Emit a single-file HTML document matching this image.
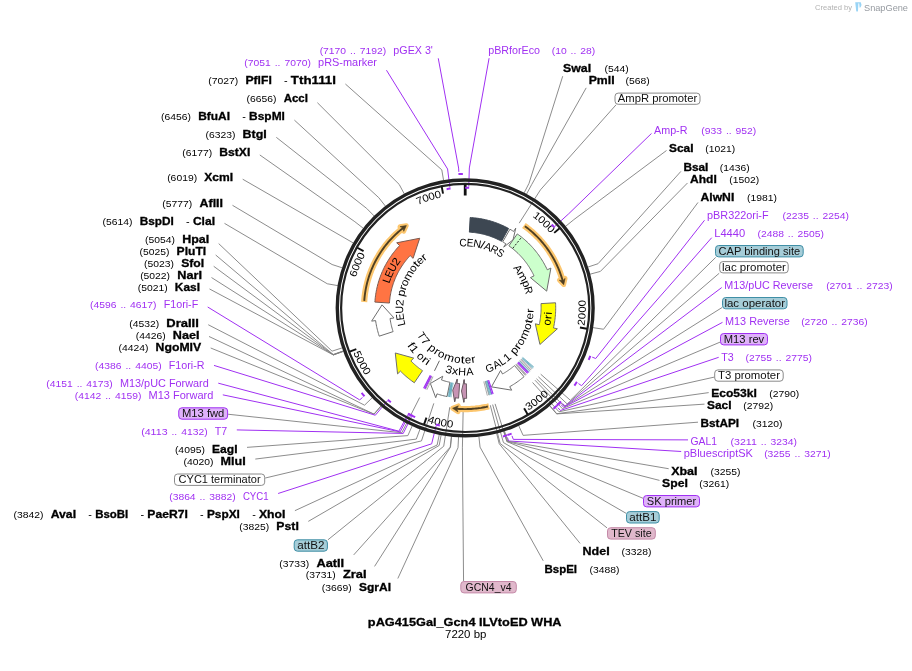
<!DOCTYPE html>
<html><head><meta charset="utf-8"><title>pAG415Gal_Gcn4 ILVtoED WHA</title>
<style>
html,body{margin:0;padding:0;background:#fff;}
body{width:912px;height:671px;overflow:hidden;}
svg{display:block;font-family:"Liberation Sans",sans-serif;will-change:transform;}
</style></head><body>
<svg width="912" height="671" viewBox="0 0 912 671">
<path d="M489.09 58.2 L469.34 167.96 L468.79 186.55" fill="none" stroke="#a030f2" stroke-width="1.0" stroke-linejoin="round"/>
<path d="M562.71 76.2 L529.03 183.3 L524.15 192.82" fill="none" stroke="#7f7f7f" stroke-width="0.9" stroke-linejoin="round"/>
<path d="M586.2 87.85 L531.62 184.66 L526.54 194.08" fill="none" stroke="#7f7f7f" stroke-width="0.9" stroke-linejoin="round"/>
<path d="M616.07 104.8 L540.44 189.84 L519.21 223.15" fill="none" stroke="#7f7f7f" stroke-width="0.9" stroke-linejoin="round"/>
<path d="M651.5 133.45 L568.78 213.71 L555.02 226.22" fill="none" stroke="#a030f2" stroke-width="1.0" stroke-linejoin="round"/>
<path d="M666.5 150.5 L573.86 219.62 L565.56 226.37" fill="none" stroke="#7f7f7f" stroke-width="0.9" stroke-linejoin="round"/>
<path d="M680.9 171.38 L598.04 263.71 L587.89 267.09" fill="none" stroke="#7f7f7f" stroke-width="0.9" stroke-linejoin="round"/>
<path d="M687.5 182.98 L600.36 271.41 L590.03 274.2" fill="none" stroke="#7f7f7f" stroke-width="0.9" stroke-linejoin="round"/>
<path d="M698 202.45 L603.56 329.26 L592.99 327.63" fill="none" stroke="#7f7f7f" stroke-width="0.9" stroke-linejoin="round"/>
<path d="M704.5 220.28 L595.73 358.51 L592.19 357.13" fill="none" stroke="#a030f2" stroke-width="1.0" stroke-linejoin="round"/>
<path d="M711.7 237.7 L581.6 385.69 L578.44 383.58" fill="none" stroke="#a030f2" stroke-width="1.0" stroke-linejoin="round"/>
<path d="M715.69 257.4 L570.4 400.27 L540.72 374.21" fill="none" stroke="#7f7f7f" stroke-width="0.9" stroke-linejoin="round"/>
<path d="M719.2 273.26 L567.12 403.88 L538.37 376.8" fill="none" stroke="#7f7f7f" stroke-width="0.9" stroke-linejoin="round"/>
<path d="M721.7 287.56 L565.1 405.99 L562.38 403.32" fill="none" stroke="#a030f2" stroke-width="1.0" stroke-linejoin="round"/>
<path d="M722 307.55 L564.5 406.59 L536.48 378.75" fill="none" stroke="#7f7f7f" stroke-width="0.9" stroke-linejoin="round"/>
<path d="M722.5 322.33 L563.72 407.37 L561.05 404.67" fill="none" stroke="#a030f2" stroke-width="1.0" stroke-linejoin="round"/>
<path d="M720 342.15 L562.41 408.65 L534.99 380.22" fill="none" stroke="#7f7f7f" stroke-width="0.9" stroke-linejoin="round"/>
<path d="M718.7 357.31 L560.47 410.49 L557.88 407.7" fill="none" stroke="#a030f2" stroke-width="1.0" stroke-linejoin="round"/>
<path d="M714.2 377.11 L559.03 411.8 L532.56 382.49" fill="none" stroke="#7f7f7f" stroke-width="0.9" stroke-linejoin="round"/>
<path d="M708.7 392.61 L556.84 413.74 L549.83 405.65" fill="none" stroke="#7f7f7f" stroke-width="0.9" stroke-linejoin="round"/>
<path d="M704.5 404.14 L556.65 413.9 L549.66 405.8" fill="none" stroke="#7f7f7f" stroke-width="0.9" stroke-linejoin="round"/>
<path d="M698 422.18 L523.11 435.36 L518.68 425.62" fill="none" stroke="#7f7f7f" stroke-width="0.9" stroke-linejoin="round"/>
<path d="M688 439.89 L513.3 439.38 L511.99 435.81" fill="none" stroke="#a030f2" stroke-width="1.0" stroke-linejoin="round"/>
<path d="M681.2 451.49 L508.58 441.01 L507.4 437.4" fill="none" stroke="#a030f2" stroke-width="1.0" stroke-linejoin="round"/>
<path d="M668.7 468.73 L507.77 441.27 L504.51 431.08" fill="none" stroke="#7f7f7f" stroke-width="0.9" stroke-linejoin="round"/>
<path d="M659.5 480.4 L507.07 441.49 L503.87 431.28" fill="none" stroke="#7f7f7f" stroke-width="0.9" stroke-linejoin="round"/>
<path d="M643 498.28 L506.84 441.57 L495.09 403.85" fill="none" stroke="#7f7f7f" stroke-width="0.9" stroke-linejoin="round"/>
<path d="M626 513.26 L503.45 442.57 L492.66 404.58" fill="none" stroke="#7f7f7f" stroke-width="0.9" stroke-linejoin="round"/>
<path d="M607 527.87 L500.16 443.47 L490.29 405.22" fill="none" stroke="#7f7f7f" stroke-width="0.9" stroke-linejoin="round"/>
<path d="M580.1 543.41 L499.21 443.71 L496.61 433.33" fill="none" stroke="#7f7f7f" stroke-width="0.9" stroke-linejoin="round"/>
<path d="M543.21 560.8 L480.04 447.11 L478.9 436.47" fill="none" stroke="#7f7f7f" stroke-width="0.9" stroke-linejoin="round"/>
<path d="M463.55 581 L462.4 447.87 L463.19 408.38" fill="none" stroke="#7f7f7f" stroke-width="0.9" stroke-linejoin="round"/>
<path d="M438.26 58.3 L458.62 168.05 L458.8 171.85" fill="none" stroke="#a030f2" stroke-width="1.0" stroke-linejoin="round"/>
<path d="M386.47 70.2 L447.58 169.01 L449.92 187.47" fill="none" stroke="#a030f2" stroke-width="1.0" stroke-linejoin="round"/>
<path d="M345.4 84.01 L441.8 169.87 L443.59 180.42" fill="none" stroke="#7f7f7f" stroke-width="0.9" stroke-linejoin="round"/>
<path d="M317.4 102.69 L399.21 184.43 L404.25 193.86" fill="none" stroke="#7f7f7f" stroke-width="0.9" stroke-linejoin="round"/>
<path d="M294.4 120.12 L378.83 197.72 L385.43 206.14" fill="none" stroke="#7f7f7f" stroke-width="0.9" stroke-linejoin="round"/>
<path d="M276.3 137.34 L366.68 208.43 L374.21 216.03" fill="none" stroke="#7f7f7f" stroke-width="0.9" stroke-linejoin="round"/>
<path d="M259.8 154.94 L354.87 221.72 L363.3 228.3" fill="none" stroke="#7f7f7f" stroke-width="0.9" stroke-linejoin="round"/>
<path d="M242.7 179.2 L344.1 237.65 L353.35 243.02" fill="none" stroke="#7f7f7f" stroke-width="0.9" stroke-linejoin="round"/>
<path d="M232.5 205.31 L332.09 264.52 L342.26 267.84" fill="none" stroke="#7f7f7f" stroke-width="0.9" stroke-linejoin="round"/>
<path d="M224.5 223.37 L327.29 283.78 L337.83 285.62" fill="none" stroke="#7f7f7f" stroke-width="0.9" stroke-linejoin="round"/>
<path d="M218.7 243.6 L332.05 351.16 L342.23 347.86" fill="none" stroke="#7f7f7f" stroke-width="0.9" stroke-linejoin="round"/>
<path d="M215.7 255 L333.19 354.51 L343.28 350.95" fill="none" stroke="#7f7f7f" stroke-width="0.9" stroke-linejoin="round"/>
<path d="M213.7 266.27 L333.27 354.74 L343.35 351.16" fill="none" stroke="#7f7f7f" stroke-width="0.9" stroke-linejoin="round"/>
<path d="M211.5 277.54 L333.31 354.85 L343.39 351.26" fill="none" stroke="#7f7f7f" stroke-width="0.9" stroke-linejoin="round"/>
<path d="M209.5 288.95 L333.35 354.97 L343.43 351.37" fill="none" stroke="#7f7f7f" stroke-width="0.9" stroke-linejoin="round"/>
<path d="M207.7 307.01 L359.68 399.91 L362.54 397.41" fill="none" stroke="#a030f2" stroke-width="1.0" stroke-linejoin="round"/>
<path d="M208.25 324.74 L364.54 405.2 L372.23 397.76" fill="none" stroke="#7f7f7f" stroke-width="0.9" stroke-linejoin="round"/>
<path d="M209 336.48 L373.93 414.06 L380.91 405.95" fill="none" stroke="#7f7f7f" stroke-width="0.9" stroke-linejoin="round"/>
<path d="M210.7 347.99 L374.12 414.22 L381.08 406.09" fill="none" stroke="#7f7f7f" stroke-width="0.9" stroke-linejoin="round"/>
<path d="M214 365.42 L375.32 415.24 L387.26 400.98" fill="none" stroke="#a030f2" stroke-width="1.0" stroke-linejoin="round"/>
<path d="M218.25 383.17 L398.89 431.2 L407.7 414.82" fill="none" stroke="#a030f2" stroke-width="1.0" stroke-linejoin="round"/>
<path d="M222.8 394.83 L400.18 431.89 L408.82 415.41" fill="none" stroke="#a030f2" stroke-width="1.0" stroke-linejoin="round"/>
<path d="M228.1 414.24 L401.8 432.72 L419.69 397.51" fill="none" stroke="#7f7f7f" stroke-width="0.9" stroke-linejoin="round"/>
<path d="M236.8 429.92 L403.22 433.43 L411.45 416.76" fill="none" stroke="#a030f2" stroke-width="1.0" stroke-linejoin="round"/>
<path d="M247 447.37 L407.85 435.61 L412.23 425.85" fill="none" stroke="#7f7f7f" stroke-width="0.9" stroke-linejoin="round"/>
<path d="M255.3 459.07 L416.3 439.08 L420.04 429.06" fill="none" stroke="#7f7f7f" stroke-width="0.9" stroke-linejoin="round"/>
<path d="M265.2 478.04 L421.47 440.9 L433.81 403.37" fill="none" stroke="#7f7f7f" stroke-width="0.9" stroke-linejoin="round"/>
<path d="M278.1 493.49 L431.66 443.82 L436.12 425.76" fill="none" stroke="#a030f2" stroke-width="1.0" stroke-linejoin="round"/>
<path d="M294.9 510.68 L437.13 445.06 L439.27 434.57" fill="none" stroke="#7f7f7f" stroke-width="0.9" stroke-linejoin="round"/>
<path d="M308.3 521.38 L439.16 445.46 L441.15 434.94" fill="none" stroke="#7f7f7f" stroke-width="0.9" stroke-linejoin="round"/>
<path d="M327.9 539.84 L443.72 446.24 L449.78 407.21" fill="none" stroke="#7f7f7f" stroke-width="0.9" stroke-linejoin="round"/>
<path d="M353.7 554.91 L450.24 447.1 L451.39 436.46" fill="none" stroke="#7f7f7f" stroke-width="0.9" stroke-linejoin="round"/>
<path d="M374.56 566.4 L450.49 447.12 L451.61 436.48" fill="none" stroke="#7f7f7f" stroke-width="0.9" stroke-linejoin="round"/>
<path d="M397.82 578.5 L458.01 447.72 L458.56 437.03" fill="none" stroke="#7f7f7f" stroke-width="0.9" stroke-linejoin="round"/>
<circle cx="465.2" cy="307.9" r="127.9" fill="none" stroke="#222" stroke-width="3.4"/>
<circle cx="465.2" cy="307.9" r="124.1" fill="none" stroke="#222" stroke-width="2.2"/>
<path d="M465.2 184.4 L465.2 195.5" fill="none" stroke="#111" stroke-width="2.8" />
<path d="M559.61 228.29 L554.19 232.86" fill="none" stroke="#111" stroke-width="1.9" />
<path d="M586.93 328.76 L579.93 327.56" fill="none" stroke="#111" stroke-width="1.9" />
<path d="M527.72 414.4 L524.13 408.28" fill="none" stroke="#111" stroke-width="1.9" />
<path d="M424.08 424.36 L426.45 417.66" fill="none" stroke="#111" stroke-width="1.9" />
<path d="M349.67 351.54 L356.31 349.03" fill="none" stroke="#111" stroke-width="1.9" />
<path d="M357.36 247.71 L363.56 251.17" fill="none" stroke="#111" stroke-width="1.9" />
<path d="M441.7 186.66 L443.05 193.63" fill="none" stroke="#111" stroke-width="1.9" />
<text transform="translate(534.67 218.53) rotate(37.86)" x="-3.18" y="0" font-size="10.4" fill="#000" textLength="6.36" lengthAdjust="spacingAndGlyphs">1</text>
<text transform="translate(539.44 222.44) rotate(40.98)" x="-3.18" y="0" font-size="10.4" fill="#000" textLength="6.36" lengthAdjust="spacingAndGlyphs">0</text>
<text transform="translate(543.98 226.61) rotate(44.1)" x="-3.18" y="0" font-size="10.4" fill="#000" textLength="6.36" lengthAdjust="spacingAndGlyphs">0</text>
<text transform="translate(548.29 231.02) rotate(47.22)" x="-3.18" y="0" font-size="10.4" fill="#000" textLength="6.36" lengthAdjust="spacingAndGlyphs">0</text>
<text transform="translate(584.88 322.78) rotate(277.09)" x="-3.18" y="0" font-size="10.4" fill="#000" textLength="6.36" lengthAdjust="spacingAndGlyphs">2</text>
<text transform="translate(585.51 316.25) rotate(273.97)" x="-3.18" y="0" font-size="10.4" fill="#000" textLength="6.36" lengthAdjust="spacingAndGlyphs">0</text>
<text transform="translate(585.79 309.7) rotate(270.86)" x="-3.18" y="0" font-size="10.4" fill="#000" textLength="6.36" lengthAdjust="spacingAndGlyphs">0</text>
<text transform="translate(585.71 303.15) rotate(267.74)" x="-3.18" y="0" font-size="10.4" fill="#000" textLength="6.36" lengthAdjust="spacingAndGlyphs">0</text>
<text transform="translate(530.97 408.99) rotate(326.95)" x="-3.18" y="0" font-size="10.4" fill="#000" textLength="6.36" lengthAdjust="spacingAndGlyphs">3</text>
<text transform="translate(536.37 405.26) rotate(323.83)" x="-3.18" y="0" font-size="10.4" fill="#000" textLength="6.36" lengthAdjust="spacingAndGlyphs">0</text>
<text transform="translate(541.56 401.25) rotate(320.72)" x="-3.18" y="0" font-size="10.4" fill="#000" textLength="6.36" lengthAdjust="spacingAndGlyphs">0</text>
<text transform="translate(546.52 396.96) rotate(317.6)" x="-3.18" y="0" font-size="10.4" fill="#000" textLength="6.36" lengthAdjust="spacingAndGlyphs">0</text>
<text transform="translate(430.32 423.35) rotate(376.81)" x="-3.18" y="0" font-size="10.4" fill="#000" textLength="6.36" lengthAdjust="spacingAndGlyphs">4</text>
<text transform="translate(436.65 425.07) rotate(373.69)" x="-3.18" y="0" font-size="10.4" fill="#000" textLength="6.36" lengthAdjust="spacingAndGlyphs">0</text>
<text transform="translate(443.06 426.45) rotate(370.58)" x="-3.18" y="0" font-size="10.4" fill="#000" textLength="6.36" lengthAdjust="spacingAndGlyphs">0</text>
<text transform="translate(449.53 427.48) rotate(367.46)" x="-3.18" y="0" font-size="10.4" fill="#000" textLength="6.36" lengthAdjust="spacingAndGlyphs">0</text>
<text transform="translate(354.46 355.66) rotate(426.67)" x="-3.18" y="0" font-size="10.4" fill="#000" textLength="6.36" lengthAdjust="spacingAndGlyphs">5</text>
<text transform="translate(357.22 361.61) rotate(423.56)" x="-3.18" y="0" font-size="10.4" fill="#000" textLength="6.36" lengthAdjust="spacingAndGlyphs">0</text>
<text transform="translate(360.3 367.39) rotate(420.44)" x="-3.18" y="0" font-size="10.4" fill="#000" textLength="6.36" lengthAdjust="spacingAndGlyphs">0</text>
<text transform="translate(363.69 373.01) rotate(417.32)" x="-3.18" y="0" font-size="10.4" fill="#000" textLength="6.36" lengthAdjust="spacingAndGlyphs">0</text>
<text transform="translate(357.04 274.49) rotate(287.17)" x="-3.18" y="0" font-size="10.4" fill="#000" textLength="6.36" lengthAdjust="spacingAndGlyphs">6</text>
<text transform="translate(359.02 268.65) rotate(290.29)" x="-3.18" y="0" font-size="10.4" fill="#000" textLength="6.36" lengthAdjust="spacingAndGlyphs">0</text>
<text transform="translate(361.32 262.93) rotate(293.41)" x="-3.18" y="0" font-size="10.4" fill="#000" textLength="6.36" lengthAdjust="spacingAndGlyphs">0</text>
<text transform="translate(363.92 257.34) rotate(296.53)" x="-3.18" y="0" font-size="10.4" fill="#000" textLength="6.36" lengthAdjust="spacingAndGlyphs">0</text>
<text transform="translate(421.02 203.68) rotate(337.03)" x="-3.18" y="0" font-size="10.4" fill="#000" textLength="6.36" lengthAdjust="spacingAndGlyphs">7</text>
<text transform="translate(426.76 201.43) rotate(340.15)" x="-3.18" y="0" font-size="10.4" fill="#000" textLength="6.36" lengthAdjust="spacingAndGlyphs">0</text>
<text transform="translate(432.61 199.49) rotate(343.27)" x="-3.18" y="0" font-size="10.4" fill="#000" textLength="6.36" lengthAdjust="spacingAndGlyphs">0</text>
<text transform="translate(438.56 197.88) rotate(346.39)" x="-3.18" y="0" font-size="10.4" fill="#000" textLength="6.36" lengthAdjust="spacingAndGlyphs">0</text>
<path d="M465.2 187.7 L467.19 187.72 L469.17 187.77" fill="none" stroke="#a030f2" stroke-width="2.0" />
<path d="M551.73 224.47 L553.1 225.92 L554.44 227.38" fill="none" stroke="#a030f2" stroke-width="2.0" />
<path d="M590.33 355.85 L589.52 357.91 L588.67 359.96" fill="none" stroke="#a030f2" stroke-width="2.0" />
<path d="M576.9 381.92 L575.66 383.76 L574.39 385.57" fill="none" stroke="#a030f2" stroke-width="2.0" />
<path d="M561.14 401.45 L559.58 403.02 L557.99 404.57" fill="none" stroke="#a030f2" stroke-width="2.0" />
<path d="M559.83 402.78 L558.25 404.33 L556.64 405.85" fill="none" stroke="#a030f2" stroke-width="2.0" />
<path d="M556.73 405.77 L555.09 407.27 L553.44 408.75" fill="none" stroke="#a030f2" stroke-width="2.0" />
<path d="M511.62 433.6 L509.54 434.35 L507.44 435.07" fill="none" stroke="#a030f2" stroke-width="2.0" />
<path d="M507.16 435.16 L505.05 435.84 L502.93 436.48" fill="none" stroke="#a030f2" stroke-width="2.0" />
<path d="M439.87 425.4 L437.93 424.97 L436 424.5" fill="none" stroke="#a030f2" stroke-width="2.0" />
<path d="M415.15 417.18 L413.35 416.34 L411.56 415.47" fill="none" stroke="#a030f2" stroke-width="2.0" />
<path d="M412.5 415.93 L410.72 415.05 L408.96 414.13" fill="none" stroke="#a030f2" stroke-width="2.0" />
<path d="M411.42 415.4 L409.65 414.5 L407.9 413.56" fill="none" stroke="#a030f2" stroke-width="2.0" />
<path d="M390.84 402.34 L389.29 401.09 L387.75 399.83" fill="none" stroke="#a030f2" stroke-width="2.0" />
<path d="M364.47 396.27 L363.02 394.59 L361.6 392.89" fill="none" stroke="#a030f2" stroke-width="2.0" />
<path d="M446.6 189.15 L448.57 188.86 L450.54 188.6" fill="none" stroke="#a030f2" stroke-width="2.0" />
<path d="M458.44 174.07 L460.65 173.98 L462.87 173.92" fill="none" stroke="#a030f2" stroke-width="2.0" />
<path d="M523.9 225.46 L525.3 226.48 L526.69 227.53 L528.07 228.59 L529.42 229.69 L530.75 230.8 L532.07 231.94 L533.36 233.1 L534.64 234.28 L535.89 235.48 L537.13 236.71 L538.34 237.96 L539.53 239.22 L540.7 240.51 L541.84 241.82 L542.97 243.14 L544.07 244.49 L545.15 245.85 L546.2 247.23 L547.23 248.63 L548.24 250.05 L549.22 251.49 L550.17 252.94 L551.11 254.41 L552.01 255.89 L552.89 257.39 L553.75 258.9 L554.58 260.43 L555.38 261.97 L556.15 263.53 L556.9 265.1 L557.62 266.68 L558.32 268.27 L558.99 269.88 L559.63 271.5 L560.24 273.12 L560.82 274.76 L561.38 276.41 L561.9 278.06 L562.4 279.73 L562.87 281.4" fill="none" stroke="#fcc66e" stroke-width="6.2" stroke-linecap="butt"/>
<path d="M565.14 278.4 L563.7 284.66 L559.38 280.1 L562.69 280.76 Z" fill="#fcc66e" stroke="#fcc66e" stroke-width="4.8" stroke-linejoin="round"/>
<path d="M524.87 226.16 L526.28 227.21 L527.66 228.28 L529.03 229.37 L530.38 230.49 L531.71 231.63 L533.03 232.79 L534.32 233.98 L535.59 235.19 L536.83 236.42 L538.06 237.67 L539.27 238.94 L540.45 240.23 L541.61 241.54 L542.75 242.88 L543.86 244.23 L544.95 245.6 L546.02 246.99 L547.06 248.4 L548.08 249.83 L549.07 251.27 L550.04 252.73 L550.98 254.21 L551.9 255.7 L552.79 257.21 L553.65 258.73 L554.49 260.27 L555.3 261.83 L556.09 263.39 L556.84 264.97 L557.57 266.57 L558.28 268.17 L558.95 269.79 L559.6 271.42 L560.21 273.06 L560.8 274.71 L561.36 276.37 L561.89 278.04 L562.4 279.72 L562.87 281.4" fill="none" stroke="#4f3f22" stroke-width="1.9"/>
<path d="M565.14 278.4 L563.7 284.66 L559.38 280.1 L562.69 280.76 Z" fill="#4f3f22" stroke="#4f3f22" stroke-width="0.6" stroke-linejoin="miter"/>
<path d="M489.02 406.26 L487.31 406.66 L485.59 407.02 L483.87 407.36 L482.14 407.67 L480.41 407.95 L478.67 408.2 L476.93 408.42 L475.19 408.61 L473.44 408.76 L471.69 408.89 L469.94 408.99 L468.18 409.06 L466.43 409.09 L464.67 409.1 L462.92 409.07 L461.17 409.02 L459.41 408.93 L457.66 408.82 L455.91 408.67" fill="none" stroke="#fcc66e" stroke-width="6.2" stroke-linecap="butt"/>
<path d="M457.94 411.85 L452.57 408.31 L458.36 405.86 L456.58 408.73 Z" fill="#fcc66e" stroke="#fcc66e" stroke-width="4.8" stroke-linejoin="round"/>
<path d="M487.85 406.53 L486.2 406.9 L484.54 407.23 L482.88 407.54 L481.21 407.83 L479.54 408.08 L477.86 408.31 L476.18 408.5 L474.5 408.67 L472.81 408.81 L471.12 408.93 L469.43 409.01 L467.74 409.07 L466.05 409.1 L464.36 409.1 L462.67 409.07 L460.98 409.01 L459.29 408.93 L457.6 408.81 L455.91 408.67" fill="none" stroke="#4f3f22" stroke-width="1.9"/>
<path d="M457.94 411.85 L452.57 408.31 L458.36 405.86 L456.58 408.73 Z" fill="#4f3f22" stroke="#4f3f22" stroke-width="0.6" stroke-linejoin="miter"/>
<path d="M364.17 302 L364.29 300.27 L364.43 298.54 L364.61 296.81 L364.81 295.08 L365.05 293.36 L365.31 291.64 L365.61 289.93 L365.93 288.22 L366.28 286.52 L366.67 284.83 L367.08 283.14 L367.52 281.46 L367.98 279.78 L368.48 278.12 L369.01 276.46 L369.56 274.81 L370.14 273.18 L370.75 271.55 L371.39 269.93 L372.06 268.33 L372.75 266.74 L373.47 265.15 L374.22 263.59 L374.99 262.03 L375.79 260.49 L376.62 258.96 L377.47 257.45 L378.35 255.95 L379.26 254.46 L380.19 253 L381.14 251.54 L382.12 250.11 L383.13 248.69 L384.16 247.29 L385.21 245.91 L386.29 244.54 L387.39 243.2 L388.51 241.87 L389.65 240.56 L390.82 239.28 L392.01 238.01 L393.22 236.76 L394.45 235.54 L395.71 234.33 L396.98 233.15 L398.27 231.99 L399.59 230.85 L400.92 229.74 L402.27 228.65 L403.64 227.58" fill="none" stroke="#fcc66e" stroke-width="6.2" stroke-linecap="butt"/>
<path d="M400 226.62 L406.34 225.58 L403.76 231.3 L403.11 227.99 Z" fill="#fcc66e" stroke="#fcc66e" stroke-width="4.8" stroke-linejoin="round"/>
<path d="M364.25 300.81 L364.39 299.06 L364.55 297.32 L364.75 295.58 L364.98 293.85 L365.24 292.12 L365.53 290.4 L365.84 288.68 L366.19 286.96 L366.57 285.25 L366.97 283.55 L367.41 281.86 L367.87 280.17 L368.37 278.5 L368.89 276.83 L369.44 275.17 L370.02 273.52 L370.63 271.88 L371.26 270.25 L371.93 268.63 L372.62 267.03 L373.34 265.43 L374.09 263.85 L374.86 262.28 L375.67 260.73 L376.49 259.19 L377.35 257.66 L378.23 256.15 L379.14 254.66 L380.07 253.18 L381.03 251.72 L382.01 250.27 L383.02 248.84 L384.05 247.43 L385.11 246.04 L386.19 244.66 L387.29 243.31 L388.42 241.97 L389.57 240.65 L390.75 239.36 L391.94 238.08 L393.16 236.83 L394.4 235.59 L395.66 234.38 L396.94 233.19 L398.24 232.02 L399.56 230.87 L400.9 229.75 L402.26 228.65 L403.64 227.58" fill="none" stroke="#4f3f22" stroke-width="1.9"/>
<path d="M400 226.62 L406.34 225.58 L403.76 231.3 L403.11 227.99 Z" fill="#4f3f22" stroke="#4f3f22" stroke-width="0.6" stroke-linejoin="miter"/>
<path d="M470.16 217.54 L471.7 217.63 L473.25 217.76 L474.79 217.91 L476.33 218.09 L477.86 218.29 L479.39 218.52 L480.92 218.78 L482.44 219.06 L483.96 219.36 L485.47 219.7 L486.97 220.06 L488.47 220.44 L489.96 220.85 L491.45 221.29 L492.93 221.75 L494.4 222.24 L495.86 222.75 L497.31 223.29 L498.75 223.85 L500.18 224.44 L501.61 225.05 L503.02 225.68 L504.42 226.34 L505.81 227.02 L507.19 227.73 L508.55 228.46 L501.56 241.27 L500.41 240.66 L499.26 240.07 L498.09 239.5 L496.92 238.94 L495.73 238.41 L494.54 237.9 L493.34 237.41 L492.13 236.94 L490.91 236.49 L489.69 236.06 L488.45 235.65 L487.21 235.26 L485.97 234.9 L484.72 234.55 L483.46 234.23 L482.2 233.93 L480.93 233.65 L479.66 233.39 L478.38 233.15 L477.1 232.94 L475.82 232.75 L474.53 232.58 L473.24 232.43 L471.95 232.3 L470.65 232.2 L469.36 232.11 Z" fill="#3d4752" stroke="#3d4752" stroke-width="1" stroke-linejoin="miter" />
<path d="M509.93 229.22 L511.18 229.95 L512.41 230.69 L513.64 231.45 L515.78 228.08 L513.04 239.83 L503.68 247.17 L505.82 243.79 L504.8 243.15 L503.76 242.52 L502.71 241.92 Z" fill="#ffffff" stroke="#6e6e6e" stroke-width="1" stroke-linejoin="miter" />
<path d="M517.31 233.91 L518.59 234.82 L519.85 235.76 L521.1 236.73 L522.33 237.71 L523.54 238.72 L524.74 239.74 L525.92 240.79 L527.08 241.86 L528.22 242.94 L529.34 244.05 L530.44 245.18 L531.52 246.32 L532.58 247.49 L533.63 248.67 L534.65 249.87 L535.65 251.09 L536.62 252.32 L537.58 253.57 L538.52 254.84 L539.43 256.13 L540.32 257.43 L541.19 258.74 L542.03 260.07 L542.85 261.42 L543.65 262.78 L544.42 264.15 L545.17 265.54 L545.9 266.94 L546.6 268.35 L547.28 269.77 L550.9 268.09 L546.7 291.15 L530.41 277.61 L534.03 275.92 L533.47 274.73 L532.88 273.54 L532.27 272.37 L531.64 271.21 L530.99 270.06 L530.32 268.92 L529.64 267.79 L528.93 266.67 L528.2 265.57 L527.45 264.48 L526.69 263.4 L525.9 262.34 L525.1 261.29 L524.28 260.25 L523.44 259.23 L522.59 258.22 L521.71 257.23 L520.82 256.26 L519.91 255.3 L518.99 254.35 L518.05 253.42 L517.09 252.51 L516.12 251.62 L515.13 250.74 L514.13 249.88 L513.11 249.03 L512.08 248.21 L511.03 247.4 L509.97 246.61 L508.9 245.84 Z" fill="#ccffcc" stroke="#6e6e6e" stroke-width="1" stroke-linejoin="miter" />
<path d="M512.86 248.19 L521.34 237.56" fill="none" stroke="#222" stroke-width="1.0" stroke-dasharray="2 1.6"/>
<path d="M555.56 302.78 L555.63 304.27 L555.67 305.76 L555.7 307.25 L555.7 308.73 L555.67 310.22 L555.62 311.71 L555.54 313.2 L555.45 314.68 L555.32 316.16 L555.17 317.65 L555 319.12 L554.8 320.6 L554.58 322.07 L554.34 323.54 L554.07 325 L553.78 326.46 L553.46 327.92 L557.36 328.8 L539.93 344.47 L535.32 323.8 L539.22 324.69 L539.49 323.47 L539.73 322.24 L539.96 321.02 L540.16 319.78 L540.35 318.55 L540.51 317.31 L540.66 316.07 L540.78 314.83 L540.89 313.59 L540.97 312.34 L541.03 311.1 L541.08 309.85 L541.1 308.6 L541.1 307.35 L541.08 306.1 L541.04 304.86 L540.98 303.61 Z" fill="#ffff00" stroke="#6e6e6e" stroke-width="1" stroke-linejoin="miter" />
<path d="M522.71 357.43 L533.77 366.96" fill="none" stroke="#3f97ad" stroke-width="0.7" />
<path d="M522.26 357.95 L533.23 367.58" fill="none" stroke="#3f97ad" stroke-width="0.7" />
<path d="M521.8 358.47 L532.68 368.2" fill="none" stroke="#3f97ad" stroke-width="0.7" />
<path d="M521.13 359.21 L531.89 369.08" fill="none" stroke="#8a8a8a" stroke-width="0.7" />
<path d="M520.46 359.93 L531.09 369.94" fill="none" stroke="#8a8a8a" stroke-width="0.7" />
<path d="M519.77 360.65 L530.27 370.8" fill="none" stroke="#8a8a8a" stroke-width="0.7" />
<path d="M519.4 361.03 L529.83 371.25" fill="none" stroke="#3f97ad" stroke-width="0.7" />
<path d="M518.66 361.78 L528.94 372.14" fill="none" stroke="#3f97ad" stroke-width="0.7" />
<path d="M518.28 362.15 L528.49 372.59" fill="none" stroke="#a030f2" stroke-width="1.2" />
<path d="M517.52 362.88 L527.59 373.46" fill="none" stroke="#a030f2" stroke-width="1.2" />
<path d="M516.51 363.83 L526.38 374.59" fill="none" stroke="#8a8a8a" stroke-width="0.7" />
<path d="M516.07 364.23 L525.85 375.07" fill="none" stroke="#8a8a8a" stroke-width="0.7" />
<path d="M515.63 364.63 L525.33 375.54" fill="none" stroke="#8a8a8a" stroke-width="0.7" />
<path d="M524.02 376.68 L522.91 377.62 L521.78 378.54 L520.63 379.44 L519.47 380.32 L518.3 381.19 L517.11 382.03 L515.91 382.86 L514.7 383.66 L513.47 384.45 L512.23 385.22 L510.98 385.97 L509.72 386.69 L511.69 390.17 L491.46 386.85 L500.57 370.5 L502.54 373.98 L503.6 373.37 L504.65 372.74 L505.69 372.1 L506.71 371.44 L507.73 370.76 L508.74 370.07 L509.73 369.36 L510.72 368.64 L511.69 367.9 L512.65 367.14 L513.6 366.37 L514.53 365.58 Z" fill="#ffffff" stroke="#6e6e6e" stroke-width="1" stroke-linejoin="miter" />
<path d="M488.59 380.11 L493.09 393.99" fill="none" stroke="#a030f2" stroke-width="1.2" />
<path d="M487.58 380.42 L491.89 394.37" fill="none" stroke="#a030f2" stroke-width="1.2" />
<path d="M487.02 380.6 L491.21 394.58" fill="none" stroke="#3f97ad" stroke-width="0.7" />
<path d="M486.25 380.82 L490.3 394.85" fill="none" stroke="#3f97ad" stroke-width="0.7" />
<path d="M485.49 381.04 L489.4 395.11" fill="none" stroke="#3f97ad" stroke-width="0.7" />
<path d="M485.05 381.16 L488.86 395.25" fill="none" stroke="#8a8a8a" stroke-width="0.7" />
<path d="M483.77 381.49 L487.34 395.65" fill="none" stroke="#8a8a8a" stroke-width="0.7" />
<path d="M464.17 379.49 L463.85 401.89" fill="none" stroke="#444" stroke-width="1.2" />
<path d="M466.62 398.39 L465.26 398.4 L463.9 398.39 L463.84 402.39 L461.51 391.02 L464.17 379.79 L464.11 383.79 L465.25 383.8 L466.39 383.79 Z" fill="#c793b4" stroke="#6a5a62" stroke-width="1" stroke-linejoin="miter" />
<path d="M457.21 379.05 L454.71 401.31" fill="none" stroke="#444" stroke-width="1.2" />
<path d="M458.59 398.16 L457.43 398.07 L456.26 397.96 L455.1 397.83 L454.65 401.81 L452.72 390.16 L457.18 379.35 L456.73 383.33 L457.7 383.43 L458.68 383.52 L459.66 383.6 Z" fill="#c793b4" stroke="#6a5a62" stroke-width="1" stroke-linejoin="miter" />
<path d="M453.42 382.88 L449.38 397.01" fill="none" stroke="#3f97ad" stroke-width="0.55" />
<path d="M452.49 382.73 L448.31 396.81" fill="none" stroke="#3f97ad" stroke-width="0.55" />
<path d="M451.6 382.57 L447.21 396.59" fill="none" stroke="#3f97ad" stroke-width="0.55" />
<path d="M451.93 382.63 L451.16 397.3" fill="none" stroke="#3f97ad" stroke-width="0.55" />
<path d="M451.03 382.47 L450.05 397.12" fill="none" stroke="#3f97ad" stroke-width="0.55" />
<path d="M450.11 382.28 L448.98 396.93" fill="none" stroke="#3f97ad" stroke-width="0.55" />
<path d="M446.98 396.55 L445.53 396.24 L444.09 395.9 L442.65 395.55 L441.22 395.17 L439.8 394.76 L438.38 394.34 L436.97 393.89 L435.72 397.69 L430.39 383.47 L442.77 376.21 L441.53 380.01 L442.71 380.39 L443.9 380.75 L445.09 381.09 L446.29 381.41 L447.49 381.71 L448.7 381.99 L449.92 382.25 Z" fill="#ffffff" stroke="#6e6e6e" stroke-width="1" stroke-linejoin="miter" />
<path d="M433.03 376.64 L426.84 389.87" fill="none" stroke="#8a8a8a" stroke-width="0.7" />
<path d="M431.95 376.13 L425.56 389.26" fill="none" stroke="#8a8a8a" stroke-width="0.7" />
<path d="M431.3 375.81 L424.78 388.87" fill="none" stroke="#a030f2" stroke-width="1.3" />
<path d="M430.36 375.33 L423.66 388.3" fill="none" stroke="#a030f2" stroke-width="1.3" />
<path d="M414.32 382.75 L413.08 381.89 L411.85 381 L410.64 380.1 L409.44 379.18 L408.25 378.24 L407.09 377.28 L405.93 376.3 L404.8 375.29 L403.68 374.28 L402.58 373.24 L401.5 372.18 L400.43 371.11 L397.57 373.9 L395.27 352.98 L413.74 358.12 L410.88 360.91 L411.77 361.81 L412.68 362.7 L413.61 363.57 L414.54 364.42 L415.5 365.26 L416.46 366.08 L417.44 366.89 L418.43 367.68 L419.44 368.45 L420.46 369.21 L421.49 369.95 L422.53 370.67 Z" fill="#ffff00" stroke="#6e6e6e" stroke-width="1" stroke-linejoin="miter" />
<path d="M379.23 336.17 L378.78 334.78 L378.36 333.38 L377.96 331.98 L377.59 330.57 L377.23 329.16 L376.9 327.74 L376.59 326.32 L376.31 324.89 L376.05 323.46 L375.81 322.02 L375.59 320.58 L371.63 321.14 L382.06 304.86 L394.01 317.97 L390.05 318.53 L390.23 319.74 L390.43 320.95 L390.65 322.15 L390.89 323.35 L391.15 324.54 L391.42 325.73 L391.72 326.92 L392.04 328.1 L392.37 329.27 L392.72 330.44 L393.1 331.61 Z" fill="#ffffff" stroke="#6e6e6e" stroke-width="1" stroke-linejoin="miter" />
<path d="M374.89 302.08 L375 300.51 L375.14 298.94 L375.31 297.37 L375.51 295.81 L375.73 294.26 L375.99 292.7 L376.26 291.15 L376.57 289.61 L376.9 288.07 L377.26 286.54 L377.64 285.01 L378.05 283.49 L378.49 281.98 L378.95 280.48 L379.44 278.98 L379.96 277.5 L380.5 276.02 L381.07 274.55 L381.66 273.09 L382.28 271.65 L382.92 270.21 L383.59 268.78 L384.28 267.37 L385 265.97 L385.74 264.58 L386.51 263.21 L387.29 261.85 L388.11 260.5 L388.94 259.16 L389.8 257.85 L390.68 256.54 L391.59 255.25 L392.51 253.98 L393.46 252.73 L394.43 251.49 L395.43 250.27 L396.44 249.06 L397.47 247.87 L398.53 246.71 L399.6 245.56 L396.7 242.8 L419.69 238.25 L413.08 258.37 L410.18 255.61 L409.28 256.58 L408.4 257.56 L407.53 258.55 L406.68 259.56 L405.85 260.59 L405.04 261.63 L404.24 262.68 L403.46 263.75 L402.71 264.83 L401.97 265.92 L401.25 267.03 L400.54 268.14 L399.86 269.28 L399.2 270.42 L398.56 271.57 L397.94 272.73 L397.34 273.91 L396.76 275.09 L396.2 276.29 L395.66 277.49 L395.14 278.71 L394.64 279.93 L394.17 281.16 L393.71 282.4 L393.28 283.65 L392.87 284.9 L392.48 286.16 L392.11 287.43 L391.77 288.7 L391.44 289.98 L391.14 291.27 L390.87 292.56 L390.61 293.85 L390.38 295.15 L390.17 296.46 L389.98 297.76 L389.82 299.07 L389.67 300.38 L389.55 301.7 L389.46 303.02 Z" fill="#ff7443" stroke="#7a5a50" stroke-width="1" stroke-linejoin="miter" />
<path d="M439.42 360.75 L434.51 370.82" fill="none" stroke="#555" stroke-width="0.9" />
<text transform="translate(463.2 246.33) rotate(-1.86)" x="-3.67" y="0" font-size="10.92" fill="#000" textLength="7.33" lengthAdjust="spacingAndGlyphs">C</text>
<text transform="translate(469.77 246.47) rotate(4.26)" x="-3.32" y="0" font-size="10.92" fill="#000" textLength="6.63" lengthAdjust="spacingAndGlyphs">E</text>
<text transform="translate(476.54 247.35) rotate(10.6)" x="-3.93" y="0" font-size="10.92" fill="#000" textLength="7.85" lengthAdjust="spacingAndGlyphs">N</text>
<text transform="translate(481.76 248.57) rotate(15.6)" x="-1.77" y="0" font-size="10.92" fill="#000" textLength="3.54" lengthAdjust="spacingAndGlyphs">/</text>
<text transform="translate(486.57 250.12) rotate(20.29)" x="-3.59" y="0" font-size="10.92" fill="#000" textLength="7.18" lengthAdjust="spacingAndGlyphs">A</text>
<text transform="translate(492.82 252.84) rotate(26.64)" x="-3.65" y="0" font-size="10.92" fill="#000" textLength="7.3" lengthAdjust="spacingAndGlyphs">R</text>
<text transform="translate(498.53 256.09) rotate(32.76)" x="-3.33" y="0" font-size="10.92" fill="#000" textLength="6.67" lengthAdjust="spacingAndGlyphs">S</text>
<text transform="translate(515.02 270.99) rotate(53.47)" x="-3.59" y="0" font-size="10.92" fill="#000" textLength="7.18" lengthAdjust="spacingAndGlyphs">A</text>
<text transform="translate(519.45 277.89) rotate(61.05)" x="-5.11" y="0" font-size="10.92" fill="#000" textLength="10.23" lengthAdjust="spacingAndGlyphs">m</text>
<text transform="translate(522.85 285.08) rotate(68.41)" x="-3.33" y="0" font-size="10.92" fill="#000" textLength="6.67" lengthAdjust="spacingAndGlyphs">p</text>
<text transform="translate(524.94 291.32) rotate(74.49)" x="-3.65" y="0" font-size="10.92" fill="#000" textLength="7.3" lengthAdjust="spacingAndGlyphs">R</text>
<text transform="translate(550.68 322.97) rotate(280)" x="-3.21" y="0" font-size="10.92" fill="#000" textLength="6.42" lengthAdjust="spacingAndGlyphs">o</text>
<text transform="translate(551.48 317.41) rotate(276.29)" x="-2.16" y="0" font-size="10.92" fill="#000" textLength="4.32" lengthAdjust="spacingAndGlyphs">r</text>
<text transform="translate(551.81 313.64) rotate(273.79)" x="-1.46" y="0" font-size="10.92" fill="#000" textLength="2.92" lengthAdjust="spacingAndGlyphs">i</text>
<text transform="translate(491 371.35) rotate(337.87)" x="-4.07" y="0" font-size="10.92" fill="#000" textLength="8.14" lengthAdjust="spacingAndGlyphs">G</text>
<text transform="translate(498.32 367.86) rotate(331.09)" x="-3.59" y="0" font-size="10.92" fill="#000" textLength="7.18" lengthAdjust="spacingAndGlyphs">A</text>
<text transform="translate(504.17 364.23) rotate(325.32)" x="-2.92" y="0" font-size="10.92" fill="#000" textLength="5.85" lengthAdjust="spacingAndGlyphs">L</text>
<text transform="translate(509.44 360.2) rotate(319.78)" x="-3.34" y="0" font-size="10.92" fill="#000" textLength="6.68" lengthAdjust="spacingAndGlyphs">1</text>
<text transform="translate(516.97 352.76) rotate(310.91)" x="-3.33" y="0" font-size="10.92" fill="#000" textLength="6.67" lengthAdjust="spacingAndGlyphs">p</text>
<text transform="translate(520.58 348.21) rotate(306.05)" x="-2.16" y="0" font-size="10.92" fill="#000" textLength="4.32" lengthAdjust="spacingAndGlyphs">r</text>
<text transform="translate(523.73 343.48) rotate(301.3)" x="-3.21" y="0" font-size="10.92" fill="#000" textLength="6.42" lengthAdjust="spacingAndGlyphs">o</text>
<text transform="translate(527.81 335.68) rotate(293.93)" x="-5.11" y="0" font-size="10.92" fill="#000" textLength="10.23" lengthAdjust="spacingAndGlyphs">m</text>
<text transform="translate(530.86 327.42) rotate(286.56)" x="-3.21" y="0" font-size="10.92" fill="#000" textLength="6.42" lengthAdjust="spacingAndGlyphs">o</text>
<text transform="translate(532.23 322.01) rotate(281.89)" x="-2.06" y="0" font-size="10.92" fill="#000" textLength="4.12" lengthAdjust="spacingAndGlyphs">t</text>
<text transform="translate(533.16 316.5) rotate(277.21)" x="-3.23" y="0" font-size="10.92" fill="#000" textLength="6.46" lengthAdjust="spacingAndGlyphs">e</text>
<text transform="translate(533.64 310.81) rotate(272.44)" x="-2.16" y="0" font-size="10.92" fill="#000" textLength="4.32" lengthAdjust="spacingAndGlyphs">r</text>
<text transform="translate(447.87 373.14) rotate(374.87)" x="-3.34" y="0" font-size="10.92" fill="#000" textLength="6.68" lengthAdjust="spacingAndGlyphs">3</text>
<text transform="translate(454.55 374.55) rotate(369.08)" x="-3.11" y="0" font-size="10.92" fill="#000" textLength="6.21" lengthAdjust="spacingAndGlyphs">x</text>
<text transform="translate(461.98 375.32) rotate(362.73)" x="-3.95" y="0" font-size="10.92" fill="#000" textLength="7.9" lengthAdjust="spacingAndGlyphs">H</text>
<text transform="translate(469.96 375.23) rotate(355.95)" x="-3.59" y="0" font-size="10.92" fill="#000" textLength="7.18" lengthAdjust="spacingAndGlyphs">A</text>
<text transform="translate(418.41 337.75) rotate(417.46)" x="-3.21" y="0" font-size="10.92" fill="#000" textLength="6.41" lengthAdjust="spacingAndGlyphs">T</text>
<text transform="translate(422.55 343.42) rotate(410.21)" x="-3.34" y="0" font-size="10.92" fill="#000" textLength="6.68" lengthAdjust="spacingAndGlyphs">7</text>
<text transform="translate(430.18 350.96) rotate(399.12)" x="-3.33" y="0" font-size="10.92" fill="#000" textLength="6.67" lengthAdjust="spacingAndGlyphs">p</text>
<text transform="translate(434.94 354.43) rotate(393.04)" x="-2.16" y="0" font-size="10.92" fill="#000" textLength="4.32" lengthAdjust="spacingAndGlyphs">r</text>
<text transform="translate(439.93 357.31) rotate(387.09)" x="-3.21" y="0" font-size="10.92" fill="#000" textLength="6.42" lengthAdjust="spacingAndGlyphs">o</text>
<text transform="translate(448.17 360.72) rotate(377.86)" x="-5.11" y="0" font-size="10.92" fill="#000" textLength="10.23" lengthAdjust="spacingAndGlyphs">m</text>
<text transform="translate(456.86 362.77) rotate(368.64)" x="-3.21" y="0" font-size="10.92" fill="#000" textLength="6.42" lengthAdjust="spacingAndGlyphs">o</text>
<text transform="translate(462.49 363.33) rotate(362.8)" x="-2.06" y="0" font-size="10.92" fill="#000" textLength="4.12" lengthAdjust="spacingAndGlyphs">t</text>
<text transform="translate(468.16 363.32) rotate(356.94)" x="-3.23" y="0" font-size="10.92" fill="#000" textLength="6.46" lengthAdjust="spacingAndGlyphs">e</text>
<text transform="translate(473.91 362.71) rotate(350.98)" x="-2.16" y="0" font-size="10.92" fill="#000" textLength="4.32" lengthAdjust="spacingAndGlyphs">r</text>
<text transform="translate(408.06 346.93) rotate(415.67)" x="-1.85" y="0" font-size="10.92" fill="#000" textLength="3.7" lengthAdjust="spacingAndGlyphs">f</text>
<text transform="translate(411.33 351.33) rotate(411.12)" x="-3.34" y="0" font-size="10.92" fill="#000" textLength="6.68" lengthAdjust="spacingAndGlyphs">1</text>
<text transform="translate(418.48 358.95) rotate(402.46)" x="-3.21" y="0" font-size="10.92" fill="#000" textLength="6.42" lengthAdjust="spacingAndGlyphs">o</text>
<text transform="translate(422.83 362.61) rotate(397.76)" x="-2.16" y="0" font-size="10.92" fill="#000" textLength="4.32" lengthAdjust="spacingAndGlyphs">r</text>
<text transform="translate(425.91 364.87) rotate(394.59)" x="-1.46" y="0" font-size="10.92" fill="#000" textLength="2.92" lengthAdjust="spacingAndGlyphs">i</text>
<text transform="translate(404.89 322.29) rotate(256.58)" x="-2.92" y="0" font-size="10.92" fill="#000" textLength="5.85" lengthAdjust="spacingAndGlyphs">L</text>
<text transform="translate(403.8 316.51) rotate(262.02)" x="-3.32" y="0" font-size="10.92" fill="#000" textLength="6.63" lengthAdjust="spacingAndGlyphs">E</text>
<text transform="translate(403.23 309.79) rotate(268.26)" x="-3.84" y="0" font-size="10.92" fill="#000" textLength="7.69" lengthAdjust="spacingAndGlyphs">U</text>
<text transform="translate(403.39 303.02) rotate(274.51)" x="-3.34" y="0" font-size="10.92" fill="#000" textLength="6.68" lengthAdjust="spacingAndGlyphs">2</text>
<text transform="translate(404.85 293.71) rotate(283.23)" x="-3.33" y="0" font-size="10.92" fill="#000" textLength="6.67" lengthAdjust="spacingAndGlyphs">p</text>
<text transform="translate(406.24 288.73) rotate(288.01)" x="-2.16" y="0" font-size="10.92" fill="#000" textLength="4.32" lengthAdjust="spacingAndGlyphs">r</text>
<text transform="translate(408 283.98) rotate(292.69)" x="-3.21" y="0" font-size="10.92" fill="#000" textLength="6.42" lengthAdjust="spacingAndGlyphs">o</text>
<text transform="translate(411.48 276.95) rotate(299.94)" x="-5.11" y="0" font-size="10.92" fill="#000" textLength="10.23" lengthAdjust="spacingAndGlyphs">m</text>
<text transform="translate(415.81 270.42) rotate(307.2)" x="-3.21" y="0" font-size="10.92" fill="#000" textLength="6.42" lengthAdjust="spacingAndGlyphs">o</text>
<text transform="translate(418.97 266.59) rotate(311.79)" x="-2.06" y="0" font-size="10.92" fill="#000" textLength="4.12" lengthAdjust="spacingAndGlyphs">t</text>
<text transform="translate(422.44 263.01) rotate(316.39)" x="-3.23" y="0" font-size="10.92" fill="#000" textLength="6.46" lengthAdjust="spacingAndGlyphs">e</text>
<text transform="translate(426.25 259.66) rotate(321.09)" x="-2.16" y="0" font-size="10.92" fill="#000" textLength="4.32" lengthAdjust="spacingAndGlyphs">r</text>
<text transform="translate(390.3 280.96) rotate(289.78)" x="-2.92" y="0" font-size="10.92" fill="#000" textLength="5.85" lengthAdjust="spacingAndGlyphs">L</text>
<text transform="translate(392.52 275.43) rotate(294.07)" x="-3.32" y="0" font-size="10.92" fill="#000" textLength="6.63" lengthAdjust="spacingAndGlyphs">E</text>
<text transform="translate(395.58 269.32) rotate(298.99)" x="-3.84" y="0" font-size="10.92" fill="#000" textLength="7.69" lengthAdjust="spacingAndGlyphs">U</text>
<text transform="translate(399.15 263.47) rotate(303.93)" x="-3.34" y="0" font-size="10.92" fill="#000" textLength="6.68" lengthAdjust="spacingAndGlyphs">2</text>
<text x="488.2" y="53.7" font-size="10.4" fill="#a030f2" textLength="51.84" lengthAdjust="spacingAndGlyphs">pBRforEco</text>
<text x="551.7" y="53.7" font-size="9.36" fill="#a030f2" textLength="14.96" lengthAdjust="spacingAndGlyphs">(10</text>
<text x="570.62" y="53.7" font-size="9.36" fill="#a030f2" textLength="5.72" lengthAdjust="spacingAndGlyphs">..</text>
<text x="580.31" y="53.7" font-size="9.36" fill="#a030f2" textLength="14.96" lengthAdjust="spacingAndGlyphs">28)</text>
<text x="563.1" y="71.7" font-size="10.82" fill="#000" font-weight="bold" stroke="#000" stroke-width="0.3" textLength="27.99" lengthAdjust="spacingAndGlyphs">SwaI</text>
<text x="604.6" y="71.7" font-size="9.36" fill="#000" textLength="24.2" lengthAdjust="spacingAndGlyphs">(544)</text>
<text x="588.7" y="83.8" font-size="10.82" fill="#000" font-weight="bold" stroke="#000" stroke-width="0.3" textLength="25.9" lengthAdjust="spacingAndGlyphs">PmlI</text>
<text x="625.5" y="83.8" font-size="9.36" fill="#000" textLength="24.2" lengthAdjust="spacingAndGlyphs">(568)</text>
<rect x="615" y="93.1" width="85" height="11.2" rx="3.2" ry="3.2" fill="#ffffff" stroke="#8a8a8a" stroke-width="1"/>
<text x="617.77" y="102.2" font-size="10.4" fill="#111" textLength="79.46" lengthAdjust="spacingAndGlyphs">AmpR promoter</text>
<text x="654" y="133.5" font-size="10.4" fill="#a030f2" textLength="33.49" lengthAdjust="spacingAndGlyphs">Amp-R</text>
<text x="701.3" y="133.5" font-size="9.36" fill="#a030f2" textLength="20.69" lengthAdjust="spacingAndGlyphs">(933</text>
<text x="725.95" y="133.5" font-size="9.36" fill="#a030f2" textLength="5.72" lengthAdjust="spacingAndGlyphs">..</text>
<text x="735.63" y="133.5" font-size="9.36" fill="#a030f2" textLength="20.69" lengthAdjust="spacingAndGlyphs">952)</text>
<text x="669" y="151.7" font-size="10.82" fill="#000" font-weight="bold" stroke="#000" stroke-width="0.3" textLength="24.55" lengthAdjust="spacingAndGlyphs">ScaI</text>
<text x="705.3" y="151.7" font-size="9.36" fill="#000" textLength="29.93" lengthAdjust="spacingAndGlyphs">(1021)</text>
<text x="683.4" y="170.7" font-size="10.82" fill="#000" font-weight="bold" stroke="#000" stroke-width="0.3" textLength="25.01" lengthAdjust="spacingAndGlyphs">BsaI</text>
<text x="719.8" y="170.7" font-size="9.36" fill="#000" textLength="29.93" lengthAdjust="spacingAndGlyphs">(1436)</text>
<text x="690" y="182.8" font-size="10.82" fill="#000" font-weight="bold" stroke="#000" stroke-width="0.3" textLength="26.77" lengthAdjust="spacingAndGlyphs">AhdI</text>
<text x="729.2" y="182.8" font-size="9.36" fill="#000" textLength="29.93" lengthAdjust="spacingAndGlyphs">(1502)</text>
<text x="700.5" y="200.6" font-size="10.82" fill="#000" font-weight="bold" stroke="#000" stroke-width="0.3" textLength="33.8" lengthAdjust="spacingAndGlyphs">AlwNI</text>
<text x="747" y="200.6" font-size="9.36" fill="#000" textLength="29.93" lengthAdjust="spacingAndGlyphs">(1981)</text>
<text x="707" y="218.8" font-size="10.4" fill="#a030f2" textLength="61.61" lengthAdjust="spacingAndGlyphs">pBR322ori-F</text>
<text x="782.5" y="218.8" font-size="9.36" fill="#a030f2" textLength="26.42" lengthAdjust="spacingAndGlyphs">(2235</text>
<text x="812.88" y="218.8" font-size="9.36" fill="#a030f2" textLength="5.72" lengthAdjust="spacingAndGlyphs">..</text>
<text x="822.56" y="218.8" font-size="9.36" fill="#a030f2" textLength="26.42" lengthAdjust="spacingAndGlyphs">2254)</text>
<text x="714.2" y="236.9" font-size="10.4" fill="#a030f2" textLength="31.02" lengthAdjust="spacingAndGlyphs">L4440</text>
<text x="757.5" y="236.9" font-size="9.36" fill="#a030f2" textLength="26.42" lengthAdjust="spacingAndGlyphs">(2488</text>
<text x="787.88" y="236.9" font-size="9.36" fill="#a030f2" textLength="5.72" lengthAdjust="spacingAndGlyphs">..</text>
<text x="797.56" y="236.9" font-size="9.36" fill="#a030f2" textLength="26.42" lengthAdjust="spacingAndGlyphs">2505)</text>
<rect x="715.5" y="245.5" width="87.7" height="11.4" rx="3.2" ry="3.2" fill="#a6cdd8" stroke="#3f8fa6" stroke-width="1"/>
<text x="718.58" y="254.8" font-size="10.4" fill="#111" textLength="81.55" lengthAdjust="spacingAndGlyphs">CAP binding site</text>
<rect x="719.7" y="261.6" width="68.5" height="11.3" rx="3.2" ry="3.2" fill="#ffffff" stroke="#8a8a8a" stroke-width="1"/>
<text x="721.96" y="270.8" font-size="10.4" fill="#111" textLength="63.98" lengthAdjust="spacingAndGlyphs">lac promoter</text>
<text x="724.2" y="288.7" font-size="10.4" fill="#a030f2" textLength="88.75" lengthAdjust="spacingAndGlyphs">M13/pUC Reverse</text>
<text x="826.2" y="288.7" font-size="9.36" fill="#a030f2" textLength="26.42" lengthAdjust="spacingAndGlyphs">(2701</text>
<text x="856.58" y="288.7" font-size="9.36" fill="#a030f2" textLength="5.72" lengthAdjust="spacingAndGlyphs">..</text>
<text x="866.26" y="288.7" font-size="9.36" fill="#a030f2" textLength="26.42" lengthAdjust="spacingAndGlyphs">2723)</text>
<rect x="722.5" y="297.5" width="64.5" height="11.3" rx="3.2" ry="3.2" fill="#a6cdd8" stroke="#3f8fa6" stroke-width="1"/>
<text x="724.45" y="306.7" font-size="10.4" fill="#111" textLength="60.59" lengthAdjust="spacingAndGlyphs">lac operator</text>
<text x="725" y="324.6" font-size="10.4" fill="#a030f2" textLength="64.73" lengthAdjust="spacingAndGlyphs">M13 Reverse</text>
<text x="801.2" y="324.6" font-size="9.36" fill="#a030f2" textLength="26.42" lengthAdjust="spacingAndGlyphs">(2720</text>
<text x="831.58" y="324.6" font-size="9.36" fill="#a030f2" textLength="5.72" lengthAdjust="spacingAndGlyphs">..</text>
<text x="841.26" y="324.6" font-size="9.36" fill="#a030f2" textLength="26.42" lengthAdjust="spacingAndGlyphs">2736)</text>
<rect x="720.5" y="333.5" width="47" height="11.4" rx="3.2" ry="3.2" fill="#dfb2fa" stroke="#a030f2" stroke-width="1"/>
<text x="723.75" y="342.8" font-size="10.4" fill="#111" textLength="40.49" lengthAdjust="spacingAndGlyphs">M13 rev</text>
<text x="721.2" y="360.6" font-size="10.4" fill="#a030f2" textLength="12.47" lengthAdjust="spacingAndGlyphs">T3</text>
<text x="745.5" y="360.6" font-size="9.36" fill="#a030f2" textLength="26.42" lengthAdjust="spacingAndGlyphs">(2755</text>
<text x="775.88" y="360.6" font-size="9.36" fill="#a030f2" textLength="5.72" lengthAdjust="spacingAndGlyphs">..</text>
<text x="785.56" y="360.6" font-size="9.36" fill="#a030f2" textLength="26.42" lengthAdjust="spacingAndGlyphs">2775)</text>
<rect x="714.7" y="369.9" width="68.5" height="11.3" rx="3.2" ry="3.2" fill="#ffffff" stroke="#8a8a8a" stroke-width="1"/>
<text x="717.93" y="379.1" font-size="10.4" fill="#111" textLength="62.05" lengthAdjust="spacingAndGlyphs">T3 promoter</text>
<text x="711.2" y="396.9" font-size="10.82" fill="#000" font-weight="bold" stroke="#000" stroke-width="0.3" textLength="45.67" lengthAdjust="spacingAndGlyphs">Eco53kI</text>
<text x="769.2" y="396.9" font-size="9.36" fill="#000" textLength="29.93" lengthAdjust="spacingAndGlyphs">(2790)</text>
<text x="707" y="408.8" font-size="10.82" fill="#000" font-weight="bold" stroke="#000" stroke-width="0.3" textLength="24.55" lengthAdjust="spacingAndGlyphs">SacI</text>
<text x="743.2" y="408.8" font-size="9.36" fill="#000" textLength="29.93" lengthAdjust="spacingAndGlyphs">(2792)</text>
<text x="700.5" y="426.8" font-size="10.82" fill="#000" font-weight="bold" stroke="#000" stroke-width="0.3" textLength="38.63" lengthAdjust="spacingAndGlyphs">BstAPI</text>
<text x="752.5" y="426.8" font-size="9.36" fill="#000" textLength="29.93" lengthAdjust="spacingAndGlyphs">(3120)</text>
<text x="690.5" y="444.9" font-size="10.4" fill="#a030f2" textLength="26.52" lengthAdjust="spacingAndGlyphs">GAL1</text>
<text x="730.5" y="444.9" font-size="9.36" fill="#a030f2" textLength="26.42" lengthAdjust="spacingAndGlyphs">(3211</text>
<text x="760.88" y="444.9" font-size="9.36" fill="#a030f2" textLength="5.72" lengthAdjust="spacingAndGlyphs">..</text>
<text x="770.56" y="444.9" font-size="9.36" fill="#a030f2" textLength="26.42" lengthAdjust="spacingAndGlyphs">3234)</text>
<text x="683.7" y="456.8" font-size="10.4" fill="#a030f2" textLength="69.25" lengthAdjust="spacingAndGlyphs">pBluescriptSK</text>
<text x="764.2" y="456.8" font-size="9.36" fill="#a030f2" textLength="26.42" lengthAdjust="spacingAndGlyphs">(3255</text>
<text x="794.58" y="456.8" font-size="9.36" fill="#a030f2" textLength="5.72" lengthAdjust="spacingAndGlyphs">..</text>
<text x="804.26" y="456.8" font-size="9.36" fill="#a030f2" textLength="26.42" lengthAdjust="spacingAndGlyphs">3271)</text>
<text x="671.2" y="474.6" font-size="10.82" fill="#000" font-weight="bold" stroke="#000" stroke-width="0.3" textLength="26.35" lengthAdjust="spacingAndGlyphs">XbaI</text>
<text x="710.5" y="474.6" font-size="9.36" fill="#000" textLength="29.93" lengthAdjust="spacingAndGlyphs">(3255)</text>
<text x="662" y="486.7" font-size="10.82" fill="#000" font-weight="bold" stroke="#000" stroke-width="0.3" textLength="25.86" lengthAdjust="spacingAndGlyphs">SpeI</text>
<text x="699.2" y="486.7" font-size="9.36" fill="#000" textLength="29.93" lengthAdjust="spacingAndGlyphs">(3261)</text>
<rect x="643.5" y="495.5" width="56" height="11.4" rx="3.2" ry="3.2" fill="#dfb2fa" stroke="#a030f2" stroke-width="1"/>
<text x="646.84" y="504.8" font-size="10.4" fill="#111" textLength="49.33" lengthAdjust="spacingAndGlyphs">SK primer</text>
<rect x="626.5" y="511.6" width="32.7" height="11.4" rx="3.2" ry="3.2" fill="#a6cdd8" stroke="#3f8fa6" stroke-width="1"/>
<text x="629.25" y="520.9" font-size="10.4" fill="#111" textLength="27.19" lengthAdjust="spacingAndGlyphs">attB1</text>
<rect x="607.5" y="527.7" width="47.8" height="11.4" rx="3.2" ry="3.2" fill="#e0b8cb" stroke="#c48aa8" stroke-width="1"/>
<text x="611.15" y="537" font-size="10.4" fill="#111" textLength="40.51" lengthAdjust="spacingAndGlyphs">TEV site</text>
<text x="582.6" y="554.7" font-size="10.82" fill="#000" font-weight="bold" stroke="#000" stroke-width="0.3" textLength="27.07" lengthAdjust="spacingAndGlyphs">NdeI</text>
<text x="621.6" y="554.7" font-size="9.36" fill="#000" textLength="29.93" lengthAdjust="spacingAndGlyphs">(3328)</text>
<text x="544.5" y="572.8" font-size="10.82" fill="#000" font-weight="bold" stroke="#000" stroke-width="0.3" textLength="32.54" lengthAdjust="spacingAndGlyphs">BspEI</text>
<text x="589.5" y="572.8" font-size="9.36" fill="#000" textLength="29.93" lengthAdjust="spacingAndGlyphs">(3488)</text>
<rect x="460.8" y="581.5" width="55.5" height="11.4" rx="3.2" ry="3.2" fill="#e0b8cb" stroke="#c48aa8" stroke-width="1"/>
<text x="465.62" y="590.8" font-size="10.4" fill="#111" textLength="45.86" lengthAdjust="spacingAndGlyphs">GCN4_v4</text>
<text x="393.35" y="53.8" font-size="10.4" fill="#a030f2" textLength="39.55" lengthAdjust="spacingAndGlyphs">pGEX 3'</text>
<text x="319.67" y="53.8" font-size="9.36" fill="#a030f2" textLength="26.42" lengthAdjust="spacingAndGlyphs">(7170</text>
<text x="350.05" y="53.8" font-size="9.36" fill="#a030f2" textLength="5.72" lengthAdjust="spacingAndGlyphs">..</text>
<text x="359.73" y="53.8" font-size="9.36" fill="#a030f2" textLength="26.42" lengthAdjust="spacingAndGlyphs">7192)</text>
<text x="318.07" y="65.7" font-size="10.4" fill="#a030f2" textLength="58.93" lengthAdjust="spacingAndGlyphs">pRS-marker</text>
<text x="244.39" y="65.7" font-size="9.36" fill="#a030f2" textLength="26.42" lengthAdjust="spacingAndGlyphs">(7051</text>
<text x="274.77" y="65.7" font-size="9.36" fill="#a030f2" textLength="5.72" lengthAdjust="spacingAndGlyphs">..</text>
<text x="284.45" y="65.7" font-size="9.36" fill="#a030f2" textLength="26.42" lengthAdjust="spacingAndGlyphs">7070)</text>
<text x="245.46" y="83.75" font-size="10.82" fill="#000" font-weight="bold" stroke="#000" stroke-width="0.3" textLength="26.31" lengthAdjust="spacingAndGlyphs">PflFI</text>
<text x="284.07" y="83.75" font-size="10.4" fill="#000" textLength="3.61" lengthAdjust="spacingAndGlyphs">-</text>
<text x="290.85" y="83.75" font-size="10.82" fill="#000" font-weight="bold" stroke="#000" stroke-width="0.3" textLength="45.05" lengthAdjust="spacingAndGlyphs">Tth111I</text>
<text x="208.33" y="83.75" font-size="9.36" fill="#000" textLength="29.93" lengthAdjust="spacingAndGlyphs">(7027)</text>
<text x="283.65" y="101.8" font-size="10.82" fill="#000" font-weight="bold" stroke="#000" stroke-width="0.3" textLength="24.25" lengthAdjust="spacingAndGlyphs">AccI</text>
<text x="246.52" y="101.8" font-size="9.36" fill="#000" textLength="29.93" lengthAdjust="spacingAndGlyphs">(6656)</text>
<text x="198.26" y="119.7" font-size="10.82" fill="#000" font-weight="bold" stroke="#000" stroke-width="0.3" textLength="31.77" lengthAdjust="spacingAndGlyphs">BfuAI</text>
<text x="242.33" y="119.7" font-size="10.4" fill="#000" textLength="3.61" lengthAdjust="spacingAndGlyphs">-</text>
<text x="249.12" y="119.7" font-size="10.82" fill="#000" font-weight="bold" stroke="#000" stroke-width="0.3" textLength="35.78" lengthAdjust="spacingAndGlyphs">BspMI</text>
<text x="161.13" y="119.7" font-size="9.36" fill="#000" textLength="29.93" lengthAdjust="spacingAndGlyphs">(6456)</text>
<text x="242.59" y="137.7" font-size="10.82" fill="#000" font-weight="bold" stroke="#000" stroke-width="0.3" textLength="24.21" lengthAdjust="spacingAndGlyphs">BtgI</text>
<text x="205.46" y="137.7" font-size="9.36" fill="#000" textLength="29.93" lengthAdjust="spacingAndGlyphs">(6323)</text>
<text x="219.32" y="155.8" font-size="10.82" fill="#000" font-weight="bold" stroke="#000" stroke-width="0.3" textLength="30.98" lengthAdjust="spacingAndGlyphs">BstXI</text>
<text x="182.19" y="155.8" font-size="9.36" fill="#000" textLength="29.93" lengthAdjust="spacingAndGlyphs">(6177)</text>
<text x="204.31" y="180.8" font-size="10.82" fill="#000" font-weight="bold" stroke="#000" stroke-width="0.3" textLength="28.89" lengthAdjust="spacingAndGlyphs">XcmI</text>
<text x="167.18" y="180.8" font-size="9.36" fill="#000" textLength="29.93" lengthAdjust="spacingAndGlyphs">(6019)</text>
<text x="199.5" y="206.8" font-size="10.82" fill="#000" font-weight="bold" stroke="#000" stroke-width="0.3" textLength="23.5" lengthAdjust="spacingAndGlyphs">AflII</text>
<text x="162.37" y="206.8" font-size="9.36" fill="#000" textLength="29.93" lengthAdjust="spacingAndGlyphs">(5777)</text>
<text x="139.76" y="224.9" font-size="10.82" fill="#000" font-weight="bold" stroke="#000" stroke-width="0.3" textLength="34.07" lengthAdjust="spacingAndGlyphs">BspDI</text>
<text x="186.13" y="224.9" font-size="10.4" fill="#000" textLength="3.61" lengthAdjust="spacingAndGlyphs">-</text>
<text x="192.91" y="224.9" font-size="10.82" fill="#000" font-weight="bold" stroke="#000" stroke-width="0.3" textLength="22.09" lengthAdjust="spacingAndGlyphs">ClaI</text>
<text x="102.63" y="224.9" font-size="9.36" fill="#000" textLength="29.93" lengthAdjust="spacingAndGlyphs">(5614)</text>
<text x="182.16" y="243" font-size="10.82" fill="#000" font-weight="bold" stroke="#000" stroke-width="0.3" textLength="27.04" lengthAdjust="spacingAndGlyphs">HpaI</text>
<text x="145.03" y="243" font-size="9.36" fill="#000" textLength="29.93" lengthAdjust="spacingAndGlyphs">(5054)</text>
<text x="176.64" y="255" font-size="10.82" fill="#000" font-weight="bold" stroke="#000" stroke-width="0.3" textLength="29.56" lengthAdjust="spacingAndGlyphs">PluTI</text>
<text x="139.52" y="255" font-size="9.36" fill="#000" textLength="29.93" lengthAdjust="spacingAndGlyphs">(5025)</text>
<text x="181.17" y="266.9" font-size="10.82" fill="#000" font-weight="bold" stroke="#000" stroke-width="0.3" textLength="23.03" lengthAdjust="spacingAndGlyphs">SfoI</text>
<text x="144.04" y="266.9" font-size="9.36" fill="#000" textLength="29.93" lengthAdjust="spacingAndGlyphs">(5023)</text>
<text x="177.28" y="278.8" font-size="10.82" fill="#000" font-weight="bold" stroke="#000" stroke-width="0.3" textLength="24.72" lengthAdjust="spacingAndGlyphs">NarI</text>
<text x="140.15" y="278.8" font-size="9.36" fill="#000" textLength="29.93" lengthAdjust="spacingAndGlyphs">(5022)</text>
<text x="174.86" y="290.8" font-size="10.82" fill="#000" font-weight="bold" stroke="#000" stroke-width="0.3" textLength="25.14" lengthAdjust="spacingAndGlyphs">KasI</text>
<text x="137.73" y="290.8" font-size="9.36" fill="#000" textLength="29.93" lengthAdjust="spacingAndGlyphs">(5021)</text>
<text x="163.72" y="308.4" font-size="10.4" fill="#a030f2" textLength="34.48" lengthAdjust="spacingAndGlyphs">F1ori-F</text>
<text x="90.04" y="308.4" font-size="9.36" fill="#a030f2" textLength="26.42" lengthAdjust="spacingAndGlyphs">(4596</text>
<text x="120.42" y="308.4" font-size="9.36" fill="#a030f2" textLength="5.72" lengthAdjust="spacingAndGlyphs">..</text>
<text x="130.1" y="308.4" font-size="9.36" fill="#a030f2" textLength="26.42" lengthAdjust="spacingAndGlyphs">4617)</text>
<text x="166.36" y="326.7" font-size="10.82" fill="#000" font-weight="bold" stroke="#000" stroke-width="0.3" textLength="32.39" lengthAdjust="spacingAndGlyphs">DraIII</text>
<text x="129.23" y="326.7" font-size="9.36" fill="#000" textLength="29.93" lengthAdjust="spacingAndGlyphs">(4532)</text>
<text x="172.85" y="338.7" font-size="10.82" fill="#000" font-weight="bold" stroke="#000" stroke-width="0.3" textLength="26.65" lengthAdjust="spacingAndGlyphs">NaeI</text>
<text x="135.73" y="338.7" font-size="9.36" fill="#000" textLength="29.93" lengthAdjust="spacingAndGlyphs">(4426)</text>
<text x="155.64" y="350.6" font-size="10.82" fill="#000" font-weight="bold" stroke="#000" stroke-width="0.3" textLength="45.56" lengthAdjust="spacingAndGlyphs">NgoMIV</text>
<text x="118.51" y="350.6" font-size="9.36" fill="#000" textLength="29.93" lengthAdjust="spacingAndGlyphs">(4424)</text>
<text x="168.82" y="368.6" font-size="10.4" fill="#a030f2" textLength="35.68" lengthAdjust="spacingAndGlyphs">F1ori-R</text>
<text x="95.14" y="368.6" font-size="9.36" fill="#a030f2" textLength="26.42" lengthAdjust="spacingAndGlyphs">(4386</text>
<text x="125.52" y="368.6" font-size="9.36" fill="#a030f2" textLength="5.72" lengthAdjust="spacingAndGlyphs">..</text>
<text x="135.2" y="368.6" font-size="9.36" fill="#a030f2" textLength="26.42" lengthAdjust="spacingAndGlyphs">4405)</text>
<text x="119.98" y="386.6" font-size="10.4" fill="#a030f2" textLength="88.77" lengthAdjust="spacingAndGlyphs">M13/pUC Forward</text>
<text x="46.31" y="386.6" font-size="9.36" fill="#a030f2" textLength="26.42" lengthAdjust="spacingAndGlyphs">(4151</text>
<text x="76.68" y="386.6" font-size="9.36" fill="#a030f2" textLength="5.72" lengthAdjust="spacingAndGlyphs">..</text>
<text x="86.37" y="386.6" font-size="9.36" fill="#a030f2" textLength="26.42" lengthAdjust="spacingAndGlyphs">4173)</text>
<text x="148.55" y="398.6" font-size="10.4" fill="#a030f2" textLength="64.75" lengthAdjust="spacingAndGlyphs">M13 Forward</text>
<text x="74.88" y="398.6" font-size="9.36" fill="#a030f2" textLength="26.42" lengthAdjust="spacingAndGlyphs">(4142</text>
<text x="105.25" y="398.6" font-size="9.36" fill="#a030f2" textLength="5.72" lengthAdjust="spacingAndGlyphs">..</text>
<text x="114.94" y="398.6" font-size="9.36" fill="#a030f2" textLength="26.42" lengthAdjust="spacingAndGlyphs">4159)</text>
<rect x="178.75" y="407.8" width="48.85" height="11.4" rx="3.2" ry="3.2" fill="#dfb2fa" stroke="#a030f2" stroke-width="1"/>
<text x="181.97" y="417.1" font-size="10.4" fill="#111" textLength="42.4" lengthAdjust="spacingAndGlyphs">M13 fwd</text>
<text x="214.83" y="434.8" font-size="10.4" fill="#a030f2" textLength="12.47" lengthAdjust="spacingAndGlyphs">T7</text>
<text x="141.15" y="434.8" font-size="9.36" fill="#a030f2" textLength="26.42" lengthAdjust="spacingAndGlyphs">(4113</text>
<text x="171.53" y="434.8" font-size="9.36" fill="#a030f2" textLength="5.72" lengthAdjust="spacingAndGlyphs">..</text>
<text x="181.21" y="434.8" font-size="9.36" fill="#a030f2" textLength="26.42" lengthAdjust="spacingAndGlyphs">4132)</text>
<text x="212.06" y="452.8" font-size="10.82" fill="#000" font-weight="bold" stroke="#000" stroke-width="0.3" textLength="25.44" lengthAdjust="spacingAndGlyphs">EagI</text>
<text x="174.93" y="452.8" font-size="9.36" fill="#000" textLength="29.93" lengthAdjust="spacingAndGlyphs">(4095)</text>
<text x="220.61" y="464.8" font-size="10.82" fill="#000" font-weight="bold" stroke="#000" stroke-width="0.3" textLength="25.19" lengthAdjust="spacingAndGlyphs">MluI</text>
<text x="183.48" y="464.8" font-size="9.36" fill="#000" textLength="29.93" lengthAdjust="spacingAndGlyphs">(4020)</text>
<rect x="174.5" y="474" width="90.2" height="11.4" rx="3.2" ry="3.2" fill="#ffffff" stroke="#8a8a8a" stroke-width="1"/>
<text x="178.58" y="483.3" font-size="10.4" fill="#111" textLength="82.04" lengthAdjust="spacingAndGlyphs">CYC1 terminator</text>
<text x="242.89" y="500.4" font-size="10.4" fill="#a030f2" textLength="25.71" lengthAdjust="spacingAndGlyphs">CYC1</text>
<text x="169.21" y="500.4" font-size="9.36" fill="#a030f2" textLength="26.42" lengthAdjust="spacingAndGlyphs">(3864</text>
<text x="199.59" y="500.4" font-size="9.36" fill="#a030f2" textLength="5.72" lengthAdjust="spacingAndGlyphs">..</text>
<text x="209.27" y="500.4" font-size="9.36" fill="#a030f2" textLength="26.42" lengthAdjust="spacingAndGlyphs">3882)</text>
<text x="50.72" y="518.4" font-size="10.82" fill="#000" font-weight="bold" stroke="#000" stroke-width="0.3" textLength="25.35" lengthAdjust="spacingAndGlyphs">AvaI</text>
<text x="88.37" y="518.4" font-size="10.4" fill="#000" textLength="3.61" lengthAdjust="spacingAndGlyphs">-</text>
<text x="95.15" y="518.4" font-size="10.82" fill="#000" font-weight="bold" stroke="#000" stroke-width="0.3" textLength="33.06" lengthAdjust="spacingAndGlyphs">BsoBI</text>
<text x="140.51" y="518.4" font-size="10.4" fill="#000" textLength="3.61" lengthAdjust="spacingAndGlyphs">-</text>
<text x="147.3" y="518.4" font-size="10.82" fill="#000" font-weight="bold" stroke="#000" stroke-width="0.3" textLength="40.53" lengthAdjust="spacingAndGlyphs">PaeR7I</text>
<text x="200.12" y="518.4" font-size="10.4" fill="#000" textLength="3.61" lengthAdjust="spacingAndGlyphs">-</text>
<text x="206.91" y="518.4" font-size="10.82" fill="#000" font-weight="bold" stroke="#000" stroke-width="0.3" textLength="32.96" lengthAdjust="spacingAndGlyphs">PspXI</text>
<text x="252.18" y="518.4" font-size="10.4" fill="#000" textLength="3.61" lengthAdjust="spacingAndGlyphs">-</text>
<text x="258.96" y="518.4" font-size="10.82" fill="#000" font-weight="bold" stroke="#000" stroke-width="0.3" textLength="26.44" lengthAdjust="spacingAndGlyphs">XhoI</text>
<text x="13.59" y="518.4" font-size="9.36" fill="#000" textLength="29.93" lengthAdjust="spacingAndGlyphs">(3842)</text>
<text x="276.33" y="529.8" font-size="10.82" fill="#000" font-weight="bold" stroke="#000" stroke-width="0.3" textLength="22.47" lengthAdjust="spacingAndGlyphs">PstI</text>
<text x="239.2" y="529.8" font-size="9.36" fill="#000" textLength="29.93" lengthAdjust="spacingAndGlyphs">(3825)</text>
<rect x="294.2" y="539.8" width="33.2" height="11.4" rx="3.2" ry="3.2" fill="#a6cdd8" stroke="#3f8fa6" stroke-width="1"/>
<text x="297.2" y="549.1" font-size="10.4" fill="#111" textLength="27.19" lengthAdjust="spacingAndGlyphs">attB2</text>
<text x="316.42" y="566.5" font-size="10.82" fill="#000" font-weight="bold" stroke="#000" stroke-width="0.3" textLength="27.78" lengthAdjust="spacingAndGlyphs">AatII</text>
<text x="279.29" y="566.5" font-size="9.36" fill="#000" textLength="29.93" lengthAdjust="spacingAndGlyphs">(3733)</text>
<text x="342.94" y="578.4" font-size="10.82" fill="#000" font-weight="bold" stroke="#000" stroke-width="0.3" textLength="23.56" lengthAdjust="spacingAndGlyphs">ZraI</text>
<text x="305.81" y="578.4" font-size="9.36" fill="#000" textLength="29.93" lengthAdjust="spacingAndGlyphs">(3731)</text>
<text x="359.02" y="590.5" font-size="10.82" fill="#000" font-weight="bold" stroke="#000" stroke-width="0.3" textLength="31.98" lengthAdjust="spacingAndGlyphs">SgrAI</text>
<text x="321.89" y="590.5" font-size="9.36" fill="#000" textLength="29.93" lengthAdjust="spacingAndGlyphs">(3669)</text>
<text x="367.86" y="625.6" font-size="11.65" fill="#000" font-weight="bold" stroke="#000" stroke-width="0.3" textLength="193.68" lengthAdjust="spacingAndGlyphs">pAG415Gal_Gcn4 ILVtoED WHA</text>
<text x="445.04" y="637.6" font-size="10.4" fill="#000" textLength="41.33" lengthAdjust="spacingAndGlyphs">7220 bp</text>
<g opacity="0.9">
<text x="815" y="10.3" font-size="7.6" fill="#a9a9a9" textLength="37" lengthAdjust="spacingAndGlyphs">Created by</text>
<path d="M855.2 2.2 L860.8 2.2 Q862.2 4.6 860.6 7.2 L859.6 7.8 L859.2 3.6 L858.4 3.2 L858 11 Q857 12.6 856.2 11 Z" fill="#8fd0f4"/>
<text x="864" y="10.6" font-size="8.4" fill="#8a8f96" textLength="44" lengthAdjust="spacingAndGlyphs">SnapGene</text>
</g>
</svg>
</body></html>
